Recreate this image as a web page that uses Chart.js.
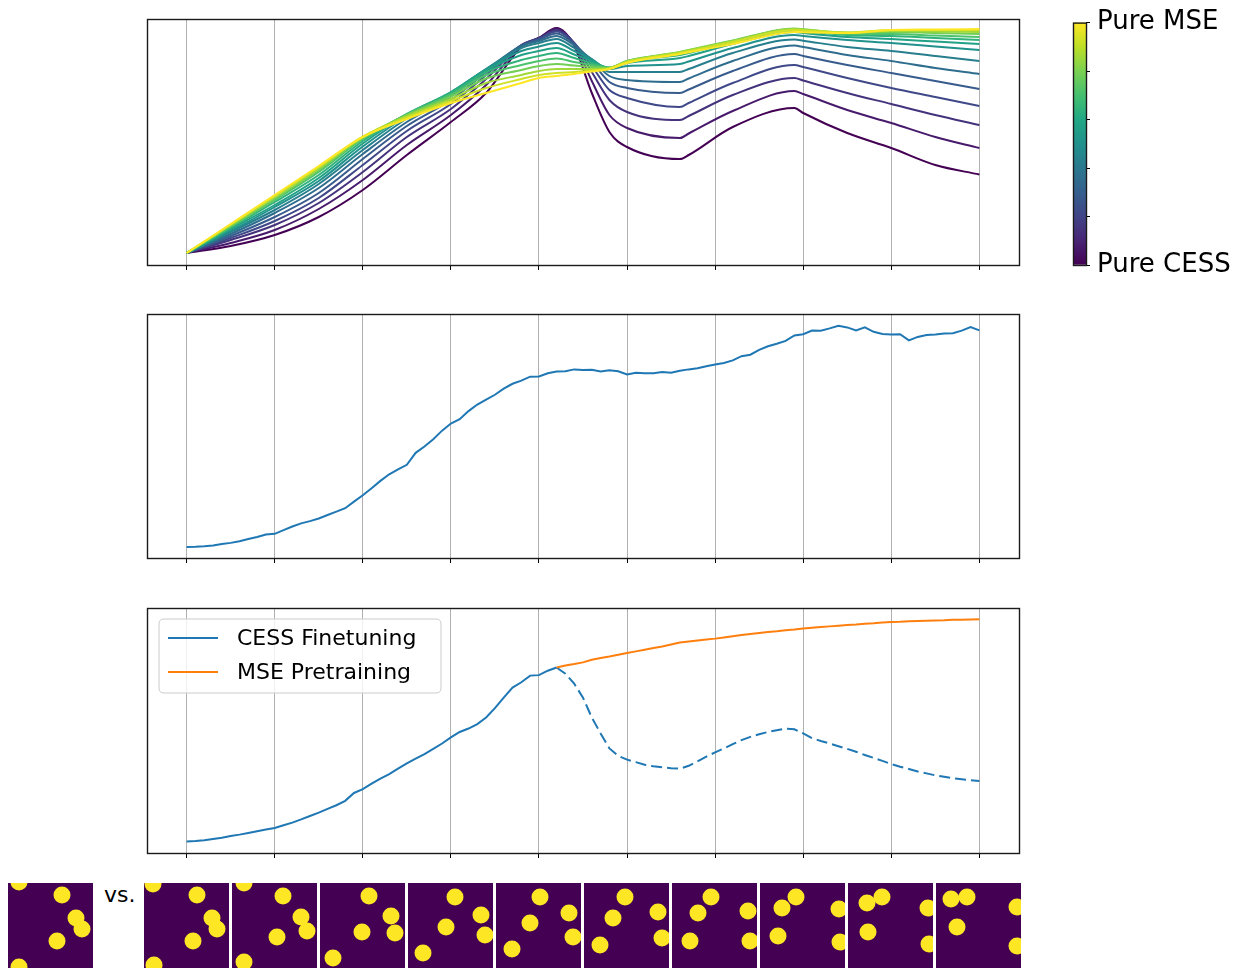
<!DOCTYPE html>
<html>
<head>
<meta charset="utf-8">
<script src="https://cdn.jsdelivr.net/npm/chart.js@4.4.1/dist/chart.umd.min.js"></script>
<style>
  html, body { margin: 0; padding: 0; background: #fff; }
  #fig { position: relative; width: 1247px; height: 969px; overflow: hidden; font-family: 'DejaVu Sans', sans-serif; }
  #fig canvas { position: absolute; }
  #vs { position: absolute; left: 104px; top: 882px; font-size: 22px; color: #000; line-height: normal; }
</style>
</head>
<body>
<div id="fig"><div id="vs">vs.</div></div>
<script>
// ---------- x positions / ticks ----------
const xTicks = [0, 10, 20, 30, 40, 50, 60, 70, 80, 90];
const steps = Array.from({ length: 91 }, (_, i) => i);

// ---------- top panel: loss-mix sweep (Pure CESS -> Pure MSE) ----------
const mixSteps = [0, 5, 10, 15, 20, 25, 30, 34, 38, 40, 42, 44, 46, 48, 50, 56, 57, 62, 69, 70, 75, 80, 85, 90];
const mix00 = [12, 19, 30, 48, 75, 110, 143, 172, 218, 227, 237, 219, 172, 133, 118, 106, 110, 138, 157, 152, 132, 117, 100, 90.5];
const mix01 = [12, 22, 35, 56, 85, 120, 150, 180, 219, 227, 236, 221, 184, 150, 137, 127, 131.5, 154, 174, 171, 155, 142, 128, 117];
const mix02 = [12, 25, 40, 62, 93, 128, 156, 186, 220, 227, 235, 222, 193, 165, 153, 145, 149, 170, 187, 184.5, 172, 161, 150, 140];
const mix03 = [12, 27, 44, 67, 100, 134, 161, 190, 220, 226.5, 233.5, 222, 199, 175, 167, 158, 162, 182, 200, 198, 187, 177, 168, 159];
const mix04 = [12, 29, 48, 72, 106, 139, 165, 193, 219.5, 225.5, 231.5, 221, 203, 183, 177, 172, 175.5, 194, 211, 209, 200, 192, 184, 176];
const mix05 = [12, 31, 52, 77, 111, 143, 168.5, 195, 219, 224, 229, 219.5, 205, 189, 185, 183, 186.5, 204, 219.5, 218, 210, 204, 197, 191];
const mix06 = [12, 33, 55, 81, 115, 146.5, 171, 196, 217, 222, 226, 217, 206, 193, 193, 193, 196, 212, 225.5, 224.3, 218, 214, 209, 204];
const mix07 = [12, 34, 58, 84, 118.5, 149, 172.5, 196, 214, 218.5, 222, 214, 205.5, 196, 199, 201, 203.5, 217, 230, 229, 225, 222, 218.5, 215];
const mix08 = [12, 36, 60, 87, 121.5, 150.5, 173, 195, 210, 214, 217, 210.5, 204, 197, 202, 207, 209, 221, 233, 232, 228, 226, 223.5, 221];
const mix09 = [12, 37, 63, 90, 124, 151, 172, 193, 205, 209, 212, 207, 202, 197.5, 203.5, 210, 212, 223, 235, 234, 230, 229, 227, 225];
const mix10 = [12, 38, 65, 93, 126, 150.5, 170.5, 190, 200, 204, 206.5, 203, 200, 197.5, 204, 212, 214, 224, 236, 235, 231, 231, 229.5, 228];
const mix11 = [12, 39, 66, 95, 127, 150, 168.5, 186.5, 195, 199, 201, 199.5, 198, 197, 204, 213, 215, 224.5, 236.5, 235.8, 232, 233, 232, 231];
const mix12 = [12, 40, 68, 96.5, 128, 149, 166, 182, 190, 194, 196, 196, 196, 197, 203.5, 213, 214.8, 224, 236, 235.4, 232.5, 234, 233.5, 233];
const mix13 = [12, 40.5, 69, 98, 128.5, 147.5, 164, 177, 186, 190, 192, 193, 194.5, 196.5, 203, 212, 213.8, 223, 235, 234.6, 232.5, 235, 235, 235];
const mix14 = [12, 41, 70, 99, 128, 146, 162, 172, 182, 187, 189, 191, 193.5, 196, 202, 211, 212.7, 221, 233, 232.8, 232, 235, 235.5, 236];
const mixCurves = [mix00, mix01, mix02, mix03, mix04, mix05, mix06, mix07, mix08, mix09, mix10, mix11, mix12, mix13, mix14];

// ---------- middle panel ----------
const middleCurve = [4.5, 4.6, 4.8, 5.1, 5.7, 6.2, 6.9, 7.8, 8.6, 9.6,
  9.9, 11.4, 12.9, 14.2, 15.1, 16.2, 17.6, 19.0, 20.4, 23.1,
  25.7, 28.6, 31.6, 34.3, 36.3, 38.2, 43.1, 45.7, 48.7, 52.2,
  55.1, 56.9, 60.2, 62.9, 64.9, 66.9, 69.4, 71.4, 72.7, 74.3,
  74.4, 75.7, 76.4, 76.5, 77.3, 77.0, 77.1, 76.4, 76.9, 76.5,
  75.2, 75.9, 75.7, 75.7, 76.2, 75.9, 76.7, 77.3, 77.8, 78.6,
  79.3, 79.9, 81.0, 82.7, 83.3, 85.3, 86.8, 87.8, 89.0, 91.2,
  91.7, 93.2, 93.1, 94.1, 95.2, 94.5, 93.3, 94.5, 92.7, 91.8,
  91.6, 91.7, 89.2, 90.6, 91.4, 91.6, 92.0, 92.1, 93.2, 94.6, 93.3];

// ---------- bottom panel ----------
const switchStep = 42;
const cessFinetuning = [4.7, 4.9, 5.2, 5.7, 6.2, 6.9, 7.5, 8.2, 8.9, 9.6,
  10.2, 11.3, 12.4, 13.7, 15.1, 16.5, 18.0, 19.5, 21.3, 24.5,
  26.1, 28.3, 30.4, 32.2, 34.4, 36.6, 38.5, 40.4, 42.5, 44.7,
  47.2, 49.4, 50.8, 52.6, 55.3, 59.1, 63.4, 67.5, 69.7, 72.4,
  72.6, 74.4, 75.7];
const cessContinued = [75.7, 73.2, 69.1, 63.4, 55.3, 48.8, 42.7, 39.6, 38.1, 37.1,
  36.0, 35.4, 35.0, 34.6, 34.4, 35.6, 37.4, 39.3, 41.1, 42.7,
  44.4, 46.1, 47.4, 48.5, 49.4, 50.1, 50.8, 50.5, 48.8, 46.9,
  45.7, 44.7, 43.6, 42.5, 41.3, 40.0, 38.8, 37.6, 36.3, 35.2,
  34.3, 33.3, 32.5, 31.7, 31.1, 30.5, 30.1, 29.7, 29.4];
const msePretraining = [75.7, 76.5, 77.1, 77.8, 78.9, 79.6, 80.2, 80.9, 81.6, 82.3,
  83.0, 83.7, 84.3, 85.1, 85.9, 86.3, 86.7, 87.1, 87.5, 88.0,
  88.5, 89.0, 89.4, 89.8, 90.2, 90.5, 90.9, 91.2, 91.6, 91.9,
  92.2, 92.5, 92.8, 93.1, 93.3, 93.6, 93.8, 94.1, 94.3, 94.4,
  94.6, 94.7, 94.8, 94.9, 95.0, 95.2, 95.2, 95.3, 95.4];
const legendLabels = ['CESS Finetuning', 'MSE Pretraining'];

// ---------- colorbar ----------
const colorbarTicks = [0, 0.2, 0.4, 0.6, 0.8, 1];
const colorbarLabels = ['Pure CESS', '', '', '', '', 'Pure MSE'];

// ---------- frames (ball centres, cell units 0..85, y downward) ----------
const frameTarget = [[11, -1], [54, 12], [68, 35], [74, 46], [49, 58], [11, 84]];
const frame01 = [[9, 1], [53, 12], [68, 35], [73, 46], [49, 58], [10, 82]];
const frame02 = [[12, 0], [51, 13], [69, 34], [75, 48], [45, 54], [12, 79]];
const frame03 = [[49, 13], [71, 33], [75, 50], [42, 49], [13, 75]];
const frame04 = [[47, 14], [73, 32], [77, 52], [38, 44], [15, 70]];
const frame05 = [[44, 14], [73, 30], [77, 54], [34, 40], [16, 66]];
const frame06 = [[41, 14], [74, 29], [78, 55], [29, 35], [16, 62]];
const frame07 = [[39, 14], [26, 30], [76, 28], [18, 58], [78, 58]];
const frame08 = [[36, 14], [22, 25], [18, 53], [79, 26], [80, 59]];
const frame09 = [[34, 14], [19, 20], [20, 49], [80, 25], [81, 61]];
const frame10 = [[31, 14], [15, 16], [21, 44], [81, 24], [81, 63]];
const rollout = [frame01, frame02, frame03, frame04, frame05, frame06, frame07, frame08, frame09, frame10];

// ---------- helpers ----------
const VIRIDIS = ['#440154', '#482475', '#414487', '#355f8d', '#2a788e', '#21918c',
                 '#22a884', '#44bf70', '#7ad151', '#bddf26', '#fde725'];
function hexToRgb(h) { return [1, 3, 5].map(i => parseInt(h.slice(i, i + 2), 16)); }
function viridis(t) {
  const p = Math.min(Math.max(t, 0), 1) * (VIRIDIS.length - 1);
  const i = Math.min(Math.floor(p), VIRIDIS.length - 2);
  const f = p - i;
  const a = hexToRgb(VIRIDIS[i]), b = hexToRgb(VIRIDIS[i + 1]);
  const c = a.map((v, j) => Math.round(v + (b[j] - v) * f));
  return `rgb(${c[0]},${c[1]},${c[2]})`;
}

Chart.defaults.font.family = "'DejaVu Sans', sans-serif";
Chart.defaults.color = '#000';

const fig = document.getElementById('fig');
function addCanvas(left, top, w, h) {
  const c = document.createElement('canvas');
  c.width = w; c.height = h;
  c.style.left = left + 'px'; c.style.top = top + 'px';
  c.style.width = w + 'px'; c.style.height = h + 'px';
  fig.appendChild(c);
  return c;
}

const framePlugin = {
  id: 'axesFrame',
  afterDraw(chart) {
    const { ctx, chartArea: a } = chart;
    ctx.save();
    ctx.strokeStyle = '#1a1a1a';
    ctx.lineWidth = 1.4;
    ctx.strokeRect(a.left + 0.5, a.top + 0.5, a.right - a.left, a.bottom - a.top);
    ctx.restore();
  }
};

function panelOptions(yMax) {
  return {
    responsive: false, animation: false, devicePixelRatio: 1,
    layout: { autoPadding: false, padding: { left: 147, right: 228, top: 2, bottom: 4 } },
    plugins: { legend: { display: false }, tooltip: { enabled: false } },
    elements: { point: { radius: 0 }, line: { tension: 0, borderWidth: 2, borderCapStyle: 'butt' } },
    scales: {
      x: {
        type: 'linear', min: -4.5, max: 94.5,
        afterBuildTicks: s => { s.ticks = xTicks.map(v => ({ value: v })); },
        afterFit: s => { s.height = 6; },
        ticks: { display: false },
        grid: { color: '#b0b0b0', lineWidth: 1, tickColor: '#000', tickLength: 5, tickWidth: 1 },
        border: { display: false }
      },
      y: { display: false, min: 0, max: yMax }
    }
  };
}

function pts(xs, ys) { return ys.map((v, i) => ({ x: xs[i], y: v })); }

// ---------- top panel ----------
new Chart(addCanvas(0, 17, 1247, 258), {
  type: 'line',
  data: {
    datasets: mixCurves.map((vals, k) => ({
      data: pts(mixSteps, vals),
      borderColor: viridis(k / (mixCurves.length - 1)),
      cubicInterpolationMode: 'monotone',
      order: mixCurves.length - 1 - k
    }))
  },
  options: panelOptions(246),
  plugins: [framePlugin]
});

// ---------- middle panel ----------
new Chart(addCanvas(0, 312, 1247, 256), {
  type: 'line',
  data: { datasets: [{ data: pts(steps, middleCurve), borderColor: '#1f77b4' }] },
  options: panelOptions(100),
  plugins: [framePlugin]
});

// ---------- bottom panel ----------
const legendPlugin = {
  id: 'boxLegend',
  afterDraw(chart) {
    const { ctx, chartArea: a } = chart;
    const items = chart.data.datasets.filter(d => d.legendLabel);
    const bx = a.left + 12, by = a.top + 11, bw = 282, bh = 74, r = 5;
    ctx.save();
    ctx.beginPath();
    ctx.moveTo(bx + r, by);
    ctx.lineTo(bx + bw - r, by); ctx.quadraticCurveTo(bx + bw, by, bx + bw, by + r);
    ctx.lineTo(bx + bw, by + bh - r); ctx.quadraticCurveTo(bx + bw, by + bh, bx + bw - r, by + bh);
    ctx.lineTo(bx + r, by + bh); ctx.quadraticCurveTo(bx, by + bh, bx, by + bh - r);
    ctx.lineTo(bx, by + r); ctx.quadraticCurveTo(bx, by, bx + r, by);
    ctx.closePath();
    ctx.fillStyle = 'rgba(255,255,255,0.8)';
    ctx.fill();
    ctx.strokeStyle = '#cccccc';
    ctx.lineWidth = 1;
    ctx.stroke();
    ctx.font = "22px 'DejaVu Sans', sans-serif";
    ctx.textBaseline = 'middle';
    items.forEach((d, i) => {
      const cy = a.top + 30 + i * 34;
      ctx.strokeStyle = d.borderColor;
      ctx.lineWidth = 2;
      ctx.beginPath();
      ctx.moveTo(a.left + 21, cy); ctx.lineTo(a.left + 71, cy);
      ctx.stroke();
      ctx.fillStyle = '#000';
      ctx.fillText(d.legendLabel, a.left + 90, cy + 1);
    });
    ctx.restore();
  }
};

new Chart(addCanvas(0, 606, 1247, 257), {
  type: 'line',
  data: {
    datasets: [
      { data: pts(steps, cessFinetuning), borderColor: '#1f77b4', legendLabel: legendLabels[0], order: 2 },
      { data: pts(steps.slice(switchStep), cessContinued), borderColor: '#1f77b4', borderDash: [11, 5], order: 3 },
      { data: pts(steps.slice(switchStep), msePretraining), borderColor: '#ff7f0e', legendLabel: legendLabels[1], order: 1 }
    ]
  },
  options: panelOptions(100),
  plugins: [framePlugin, legendPlugin]
});

// ---------- colorbar ----------
new Chart(addCanvas(1063, 0, 184, 300), {
  type: 'bar',
  data: {
    labels: [''],
    datasets: [{
      data: [[colorbarTicks[0], colorbarTicks[colorbarTicks.length - 1]]],
      barPercentage: 1, categoryPercentage: 1, borderWidth: 0,
      backgroundColor: ctx => {
        const area = ctx.chart.chartArea;
        if (!area) return VIRIDIS[5];
        const g = ctx.chart.ctx.createLinearGradient(0, area.bottom, 0, area.top);
        VIRIDIS.forEach((c, i) => g.addColorStop(i / (VIRIDIS.length - 1), c));
        return g;
      }
    }]
  },
  options: {
    responsive: false, animation: false, devicePixelRatio: 1,
    layout: { autoPadding: false, padding: { left: 10, right: 0, top: 19, bottom: 35 } },
    plugins: { legend: { display: false }, tooltip: { enabled: false } },
    scales: {
      x: { display: false },
      y: {
        position: 'right', min: 0, max: 1,
        afterBuildTicks: s => { s.ticks = colorbarTicks.map(v => ({ value: v })); },
        afterFit: s => { s.width = 161; },
        ticks: { autoSkip: false, padding: 7, font: { size: 26 }, color: '#000',
                 callback: (v, i) => colorbarLabels[i] },
        grid: { drawOnChartArea: false, tickLength: 4, tickColor: '#000', tickWidth: 1 },
        border: { display: false }
      }
    }
  },
  plugins: [framePlugin]
});

// ---------- frames strip ----------
const cellBg = {
  id: 'cellBg',
  beforeDatasetsDraw(chart) {
    const { ctx, chartArea: a } = chart;
    ctx.save();
    ctx.fillStyle = '#440154';
    ctx.fillRect(a.left, a.top, a.right - a.left, a.bottom - a.top);
    ctx.restore();
  }
};
function makeCell(left, balls) {
  new Chart(addCanvas(left, 883, 85, 85), {
    type: 'scatter',
    data: { datasets: [{ data: balls.map(b => ({ x: b[0], y: b[1] })), pointRadius: 8.5,
                         pointBackgroundColor: '#fde725', pointBorderWidth: 0, clip: 0 }] },
    options: {
      responsive: false, animation: false, devicePixelRatio: 1,
      layout: { autoPadding: false, padding: 0 },
      plugins: { legend: { display: false }, tooltip: { enabled: false } },
      scales: { x: { display: false, min: 0, max: 85 }, y: { display: false, min: 0, max: 85, reverse: true } }
    },
    plugins: [cellBg]
  });
}
makeCell(8, frameTarget);
rollout.forEach((f, i) => makeCell(Math.round(143.5 + 88.1 * i), f));
</script>
</body>
</html>
